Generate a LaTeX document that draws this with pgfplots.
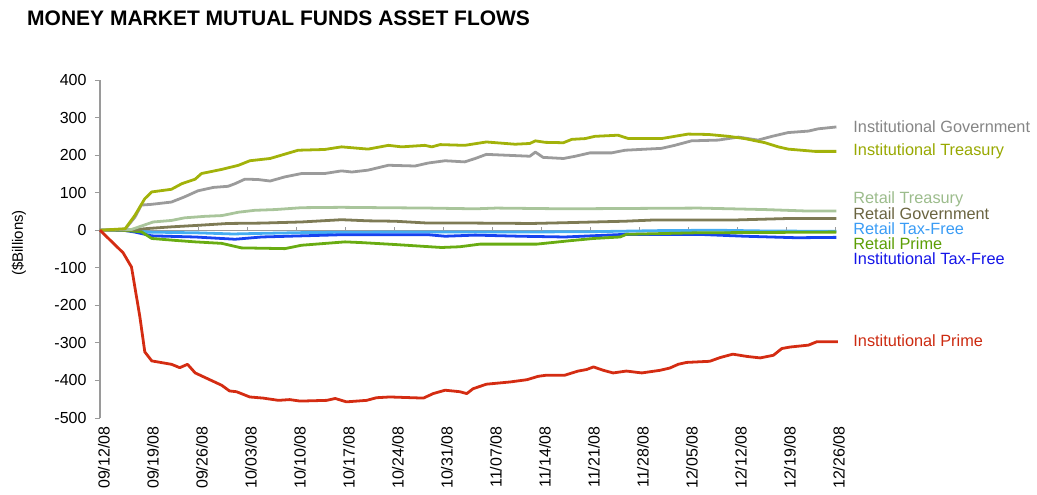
\documentclass[border=0pt]{standalone}
\usepackage{pgfplots}
\pgfplotsset{compat=1.18}
\usepackage{fontspec}
\setmainfont{Liberation Sans}
\definecolor{axgray}{HTML}{9A9A9A}
\definecolor{cIG}{HTML}{9B9B9B}
\definecolor{tIG}{HTML}{858585}
\definecolor{cIT}{HTML}{A2B20A}
\definecolor{tIT}{HTML}{98A800}
\definecolor{cRT}{HTML}{A9C59B}
\definecolor{tRT}{HTML}{9CBC8C}
\definecolor{cRG}{HTML}{7E7B55}
\definecolor{tRG}{HTML}{6A6440}
\definecolor{cRTF}{HTML}{45ADF2}
\definecolor{tRTF}{HTML}{3A9CF5}
\definecolor{cRP}{HTML}{69AC12}
\definecolor{tRP}{HTML}{5C9E05}
\definecolor{cITF}{HTML}{1743F0}
\definecolor{tITF}{HTML}{1414E8}
\definecolor{cIP}{HTML}{D42C12}
\definecolor{tIP}{HTML}{CC2A10}
\newcommand{\tickf}{\fontsize{16bp}{18bp}\selectfont}
\newcommand{\labf}{\fontsize{16.3bp}{18bp}\selectfont}
\begin{document}
\begin{tikzpicture}
\begin{axis}[
  scale only axis, width=742bp, height=338bp,
  xmin=0, xmax=106, ymin=-500, ymax=400,
  axis y line*=left, axis x line*=bottom,
  x axis line style={draw=none},
  y axis line style={draw=axgray, line width=1.2pt},
  xtick={0,7,...,105},
  xticklabels={09/12/08,09/19/08,09/26/08,10/03/08,10/10/08,10/17/08,10/24/08,10/31/08,11/07/08,11/14/08,11/21/08,11/28/08,12/05/08,12/12/08,12/19/08,12/26/08},
  xtick style={draw=none},
  ytick={-500,-400,...,400},
  ytick style={draw=axgray, line width=1pt},
  tick align=outside, major tick length=5bp,
  ticklabel style={font=\tickf},
  xticklabel style={xshift=4bp, rotate=90, anchor=east},
  yticklabel style={xshift=-5bp},
  /pgf/number format/assume math mode=true,
  ylabel={(\$Billions)},
  every axis y label/.style={at={(axis description cs:0,0.5)}, xshift=-81bp, yshift=6bp, rotate=90, anchor=center, font=\fontsize{15bp}{17bp}\selectfont},
  clip=false,
  every axis plot/.append style={line width=2.8pt, line join=round, no markers},
]
% zero line and weekly ticks
\addplot[axgray, line width=1pt] coordinates {(0,0)(105,0)};
\addplot[axgray, line width=1pt, unbounded coords=jump] coordinates {
(7,0)(7,9)(7,nan)(14,0)(14,9)(14,nan)(21,0)(21,9)(21,nan)(28,0)(28,9)(28,nan)
(35,0)(35,9)(35,nan)(42,0)(42,9)(42,nan)(49,0)(49,9)(49,nan)(56,0)(56,9)(56,nan)
(63,0)(63,9)(63,nan)(70,0)(70,9)(70,nan)(77,0)(77,9)(77,nan)(84,0)(84,9)(84,nan)
(91,0)(91,9)(91,nan)(98,0)(98,9)(98,nan)(105,0)(105,9)};
% Retail Tax-Free
\addplot[cRTF] coordinates {(0,0)(4.5,0)(7,-5)(14,-7)(19,-10)(24,-8)(30,-6)(40,-5)(55,-5)(70,-4)(80,-1)(88,0)(95,-2)(105.2,-3)};
% Institutional Tax-Free
\addplot[cITF] coordinates {(0,0)(3.3,0)(5,-5)(7.4,-15)(13.6,-18)(19.3,-24)(23.1,-18)(34.5,-12)(46.9,-12)(49.3,-16)(53.6,-13)(60,-16)(66.4,-18)(75,-11)(85.5,-11)(92.1,-16)(99.5,-20)(105.2,-19)};
% Retail Prime
\addplot[cRP] coordinates {(0,0)(3,0)(5.9,-4)(7.4,-22)(10.7,-27)(13.6,-31)(17.4,-35)(20.2,-47)(26.4,-49)(28.8,-40)(35,-31)(37.4,-33)(42.1,-38)(48.8,-46)(51.4,-44)(54.3,-37)(62.4,-37)(67.1,-28)(70.5,-22)(74.3,-18)(75.2,-11)(84.8,-7)(94.3,-6)(105.2,-5)};
% Retail Government
\addplot[cRG] coordinates {(0,0)(5,1)(6.4,4)(10.2,9)(14,13)(18.3,18)(23.1,19)(28.8,22)(34.5,28)(38.3,25)(42.1,24)(46.9,19)(53.6,19)(61.7,18)(66.4,20)(75,24)(78.8,27)(90.2,27)(97.9,31)(105.2,31)};
% Retail Treasury
\addplot[cRT] coordinates {(0,0)(4.5,2)(7.6,22)(10.2,26)(12.1,33)(15,37)(17.4,39)(19.8,48)(22.1,53)(25,55)(28.8,60)(34.5,61)(40.2,60)(46.9,59)(53.6,57)(56.6,59)(66.4,57)(85.5,59)(95,55)(101.2,51)(105.2,51)};
% Institutional Government
\addplot[cIG] coordinates {(0,0)(3.6,3)(5,35)(5.9,67)(7.4,69)(10.2,75)(12.1,89)(14,105)(16.2,114)(18.3,117)(19.3,124)(20.7,136)(22.6,135)(24.3,131)(26.4,142)(28.8,151)(32.1,151)(34.5,158)(36,155)(38.3,160)(41.2,173)(45,171)(46.9,179)(49.3,185)(52.1,182)(53.6,191)(55.2,202)(61.4,197)(62.2,208)(63.3,194)(66.2,191)(67.9,197)(70,206)(73.1,206)(75,213)(80.2,218)(82.1,226)(84.5,238)(88.3,240)(91.2,248)(94,240)(96,250)(98.3,260)(101.2,264)(102.6,270)(105.2,275)};
% Institutional Treasury
\addplot[cIT] coordinates {(0,0)(3.6,4)(5,40)(6.4,84)(7.4,102)(10.2,109)(11.7,124)(13.6,136)(14.5,151)(17.4,162)(19.8,173)(21.4,185)(24.3,191)(28.3,213)(32.1,215)(34.5,222)(38.3,216)(41.2,226)(43.1,222)(46.4,226)(47.4,222)(48.6,228)(52.1,226)(55.2,235)(59.3,229)(61.4,231)(62.2,238)(63.6,234)(66.2,233)(67.4,242)(69.3,244)(70.7,250)(74,253)(75.5,244)(80.2,244)(84,256)(86.9,255)(89.8,250)(92.1,244)(95,233)(96.9,222)(98.3,216)(102.1,210)(105.2,210)};
% Institutional Prime
\addplot[cIP] coordinates {(0,0)(3.3,-60)(4.5,-98)(5.7,-231)(6.4,-324)(7.4,-348)(10.2,-357)(11.4,-366)(12.5,-357)(13.6,-380)(17.4,-413)(18.5,-428)(19.5,-430)(21.4,-444)(23.3,-447)(25.5,-453)(27.1,-451)(28.6,-455)(32.4,-453)(33.6,-448)(35.2,-457)(38.1,-453)(39.5,-446)(41.4,-444)(46.2,-447)(47.6,-435)(49.3,-426)(51.4,-430)(52.4,-435)(53.3,-422)(55.2,-410)(58.6,-404)(61,-398)(62.6,-389)(63.8,-386)(66.4,-386)(68.3,-375)(69.5,-371)(70.5,-364)(71.9,-373)(73.3,-380)(75.2,-375)(77.4,-380)(80,-373)(81.4,-367)(82.6,-357)(83.8,-352)(87.1,-349)(88.6,-339)(90.4,-330)(92.4,-336)(94.3,-340)(96.2,-333)(97.4,-315)(98.6,-311)(101.2,-306)(102.4,-297)(105.4,-297)};
% series labels
\node[anchor=west, inner sep=0pt, text=tIG, font=\labf] at (axis cs:107.6,277) {Institutional Government};
\node[anchor=west, inner sep=0pt, text=tIT, font=\labf] at (axis cs:107.6,210) {Institutional Treasury};
\node[anchor=west, inner sep=0pt, text=tRT, font=\labf] at (axis cs:107.6,83) {Retail Treasury};
\node[anchor=west, inner sep=0pt, text=tRG, font=\labf] at (axis cs:107.6,43) {Retail Government};
\node[anchor=west, inner sep=0pt, text=tRTF, font=\labf] at (axis cs:107.6,3) {Retail Tax-Free};
\node[anchor=west, inner sep=0pt, text=tRP, font=\labf] at (axis cs:107.6,-37) {Retail Prime};
\node[anchor=west, inner sep=0pt, text=tITF, font=\labf] at (axis cs:107.6,-77) {Institutional Tax-Free};
\node[anchor=west, inner sep=0pt, text=tIP, font=\labf] at (axis cs:107.6,-295) {Institutional Prime};
\end{axis}
\node[anchor=west, inner sep=0pt, font=\bfseries\fontsize{21bp}{24bp}\selectfont] at ([xshift=-73bp,yshift=400bp]current axis.south west) {MONEY MARKET MUTUAL FUNDS ASSET FLOWS};
\path ([xshift=-100bp,yshift=-77bp]current axis.south west) rectangle ++(1037bp,495bp);
\end{tikzpicture}
\end{document}
